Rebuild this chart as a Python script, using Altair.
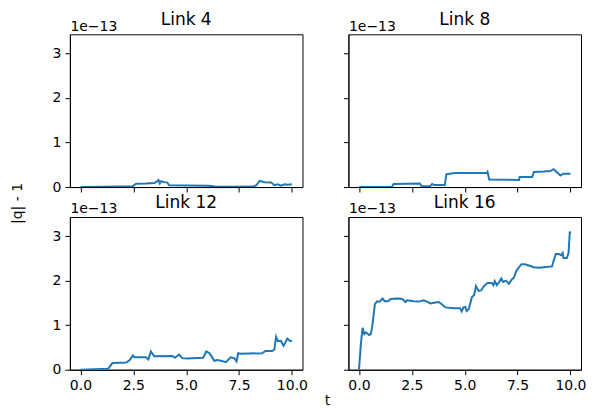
import altair as alt
import pandas as pd

titles = ["Link 4", "Link 8", "Link 12", "Link 16"]
x_ticks = [0, 2.5, 5, 7.5, 10]
y_ticks = [0, 1, 2, 3]
offset_label = "1e\u221213"
y_label = "|q| - 1"
x_label = "t"

t4 = [0.0, 1.07, 1.85, 2.48, 2.63, 3.1, 3.49, 3.6, 3.69, 3.75, 3.82, 3.96, 4.11, 4.19, 4.97, 6.06, 6.37, 7.3, 8.16, 8.32, 8.47, 8.71, 9.02, 9.17, 9.33, 9.49, 9.64, 9.8, 10.0]
v4 = [0.0, 0.005, 0.01, 0.02, 0.075, 0.08, 0.09, 0.12, 0.16, 0.08, 0.13, 0.11, 0.1, 0.04, 0.035, 0.03, 0.01, 0.005, 0.01, 0.04, 0.14, 0.11, 0.1, 0.04, 0.06, 0.03, 0.06, 0.05, 0.06]

t8 = [0.0, 1.56, 1.64, 2.87, 2.96, 3.35, 3.46, 3.55, 4.06, 4.13, 4.29, 4.52, 6.05, 6.08, 6.16, 7.57, 7.6, 8.19, 8.27, 8.74, 9.05, 9.2, 9.36, 9.52, 9.67, 10.0]
v8 = [0.0, 0.005, 0.07, 0.08, 0.02, 0.015, 0.07, 0.045, 0.045, 0.285, 0.3, 0.315, 0.315, 0.34, 0.17, 0.16, 0.225, 0.225, 0.34, 0.35, 0.36, 0.4, 0.33, 0.26, 0.3, 0.3]

t12 = [0.0, 1.31, 1.51, 2.17, 2.32, 2.48, 2.55, 3.1, 3.21, 3.33, 3.49, 4.35, 4.47, 4.66, 4.81, 5.03, 5.8, 5.95, 6.1, 6.2, 6.33, 6.48, 6.64, 6.88, 7.1, 7.27, 7.38, 7.46, 7.58, 8.59, 8.75, 9.06, 9.17, 9.25, 9.34, 9.48, 9.6, 9.67, 9.78, 9.9, 10.0]
v12 = [0.0, 0.02, 0.15, 0.16, 0.21, 0.32, 0.28, 0.28, 0.23, 0.41, 0.3, 0.31, 0.27, 0.34, 0.26, 0.25, 0.27, 0.41, 0.37, 0.3, 0.2, 0.22, 0.2, 0.17, 0.28, 0.26, 0.19, 0.37, 0.36, 0.37, 0.42, 0.42, 0.45, 0.74, 0.64, 0.65, 0.54, 0.59, 0.7, 0.65, 0.64]

t16 = [0.0, 0.09, 0.17, 0.25, 0.33, 0.48, 0.56, 0.64, 0.75, 0.84, 0.98, 1.11, 1.22, 1.38, 1.5, 1.81, 2.05, 2.2, 2.28, 2.59, 2.83, 3.06, 3.22, 3.38, 3.61, 3.77, 3.92, 4.08, 4.47, 4.78, 4.86, 4.94, 5.03, 5.09, 5.19, 5.34, 5.45, 5.53, 5.66, 5.77, 5.92, 6.08, 6.28, 6.36, 6.42, 6.52, 6.63, 6.73, 6.81, 6.94, 7.09, 7.22, 7.33, 7.44, 7.56, 7.69, 7.84, 8.03, 8.27, 8.5, 8.73, 9.13, 9.2, 9.31, 9.44, 9.55, 9.63, 9.67, 9.83, 9.91, 9.97, 10.0]
v16 = [0.0, 0.58, 0.94, 0.8, 0.84, 0.78, 0.8, 1.02, 1.47, 1.53, 1.53, 1.6, 1.54, 1.54, 1.59, 1.6, 1.59, 1.52, 1.56, 1.54, 1.53, 1.56, 1.53, 1.49, 1.51, 1.52, 1.47, 1.4, 1.38, 1.38, 1.31, 1.4, 1.41, 1.32, 1.36, 1.63, 1.68, 1.88, 1.77, 1.78, 1.88, 1.95, 1.95, 1.9, 1.99, 1.9, 1.97, 2.05, 1.97, 2.0, 1.93, 2.02, 2.07, 2.22, 2.3, 2.37, 2.37, 2.34, 2.3, 2.29, 2.3, 2.32, 2.44, 2.6, 2.6, 2.57, 2.62, 2.51, 2.51, 2.62, 3.1, 3.06]

series = [(t4, v4), (t8, v8), (t12, v12), (t16, v16)]

W, H = 233, 153
GAP_X, GAP_Y = 46, 30
FONT = "DejaVu Sans"


def label(text, x, y, size, angle=0, baseline="middle"):
    return alt.Chart(pd.DataFrame({"s": [text]})).mark_text(
        angle=angle, fontSize=size, font=FONT, color="black",
        baseline=baseline, align="center"
    ).encode(x=alt.value(x), y=alt.value(y), text="s:N")


def panel(i):
    t, v = series[i]
    df = pd.DataFrame({"t": t, "v": v})
    show_x = i >= 2
    show_y = i % 2 == 0
    x = alt.X("t:Q",
              scale=alt.Scale(domain=[-0.5, 10.5], nice=False, zero=False),
              axis=alt.Axis(values=x_ticks, format=".1f", labels=show_x, title=None))
    y = alt.Y("v:Q",
              scale=alt.Scale(domain=[0, 3.43], nice=False),
              axis=alt.Axis(values=y_ticks, format="d", labels=show_y,
                            title=offset_label, titleAngle=0, titleAlign="left",
                            titleBaseline="alphabetic", titleX=0, titleY=-4,
                            titleFontWeight="normal", titleFontSize=14, titleFont=FONT,
                            titleColor="black"))
    line = alt.Chart(df).mark_line(color="#1f77b4", strokeWidth=2, clip=True).encode(x=x, y=y)
    layers = [line, label(titles[i], W / 2, -9, 17, baseline="alphabetic")]
    if i == 0:
        layers.append(label(y_label, -52, 169.5, 14, angle=270))
    if i == 2:
        layers.append(label(x_label, 258, 188.5, 14, baseline="alphabetic"))
    return alt.layer(*layers).properties(width=W, height=H)


chart = alt.concat(*[panel(i) for i in range(4)], columns=2,
                   spacing={"row": GAP_Y, "column": GAP_X}, bounds="flush").properties(
    padding={"left": 2, "top": 2, "right": 0, "bottom": 0}
).configure_view(stroke="black", strokeWidth=1).configure_axis(
    grid=False, domainColor="black", tickColor="black", labelColor="black",
    labelFont=FONT, labelFontSize=14, tickSize=5, labelPadding=4, domainWidth=1, tickWidth=1
)

chart.save("out.html", embed_options={"renderer": "svg", "actions": False})
